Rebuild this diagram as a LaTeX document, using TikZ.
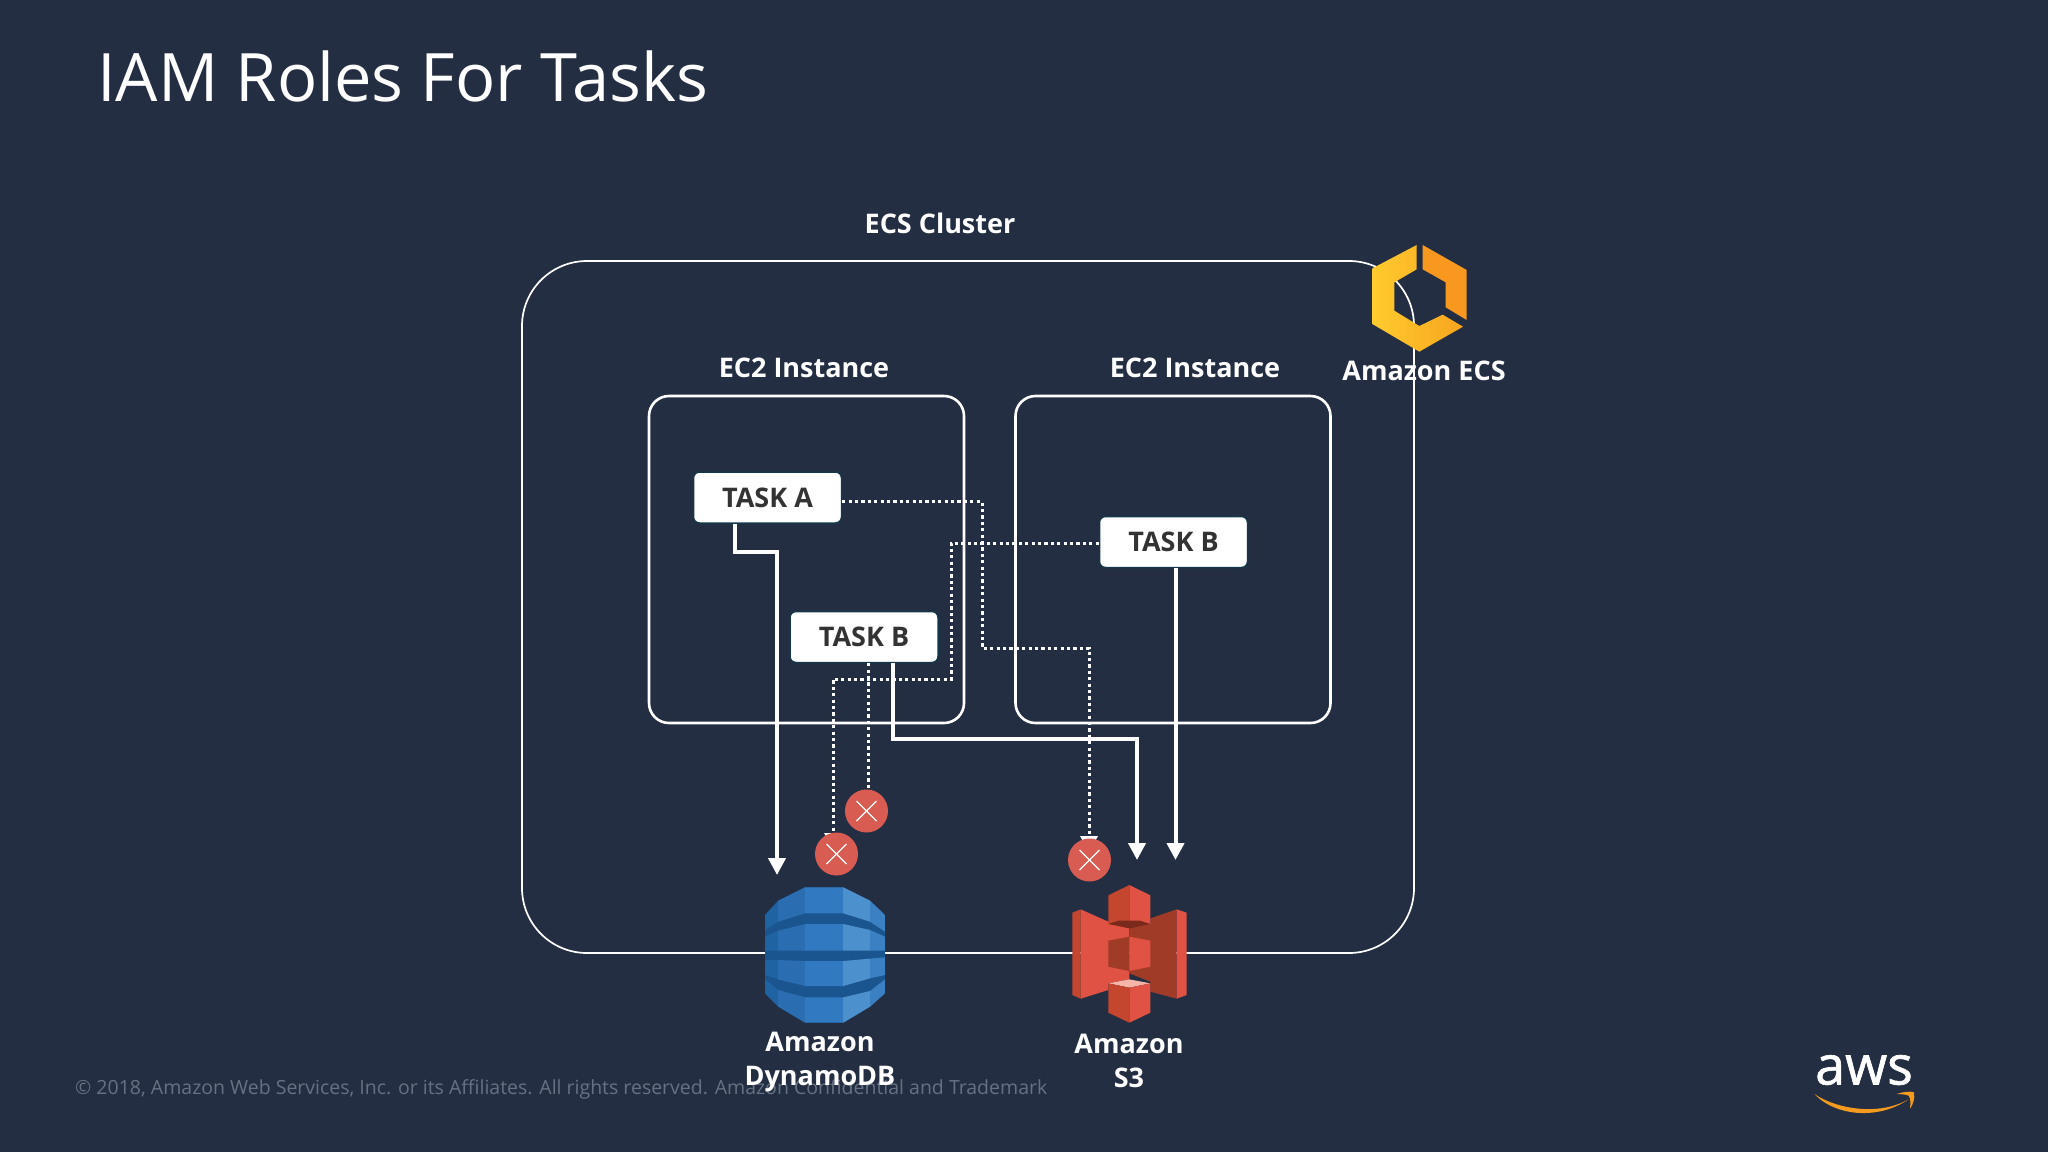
\documentclass[tikz,border=0pt]{standalone}
\usepackage{fontspec}
\setmainfont{Open Sans}
\newfontfamily\awsfont[FakeBold=1.2]{Open Sans}
\usetikzlibrary{arrows.meta}
\definecolor{slide}{HTML}{242E42}
\definecolor{foot}{HTML}{667183}
\definecolor{taskink}{HTML}{333333}
\definecolor{taskrim}{HTML}{14384A}
\definecolor{xred}{HTML}{D95C53}
\definecolor{dbdark}{HTML}{1A5590}
\definecolor{dbedge}{HTML}{2063A3}
\definecolor{dbone}{HTML}{2A6DB0}
\definecolor{dbtwo}{HTML}{3179C0}
\definecolor{dbthree}{HTML}{4C91CD}
\definecolor{dbfour}{HTML}{3A80C2}
\definecolor{sred}{HTML}{E05243}
\definecolor{sdark}{HTML}{A03B28}
\definecolor{smid}{HTML}{C4462F}
\definecolor{sdeep}{HTML}{7A2A1A}
\definecolor{spale}{HTML}{F5B5A8}
\definecolor{smile}{HTML}{F39A1F}
\definecolor{ecsyellow}{HTML}{FFCB2E}
\definecolor{ecsamber}{HTML}{F8A51F}
\definecolor{ecsorange}{HTML}{F8981F}
\tikzset{
    label text/.style={text=white, font=\fontsize{27}{34}\selectfont\bfseries, align=center, inner sep=0pt},
    instance box/.style={draw=white, line width=2.6pt, rounded corners=20pt, minimum width=315pt, minimum height=327pt},
    task box/.style={draw=taskrim, line width=1.5pt, fill=white, rounded corners=6pt, text=taskink,
        font=\fontsize{27}{34}\selectfont\bfseries, minimum width=148pt, minimum height=51pt, inner sep=0pt},
    cross mark/.style={circle, fill=xred, minimum size=43pt, inner sep=0pt},
    allowed/.style={draw=white, line width=4pt, ->},
    denied/.style={draw=white, line width=3pt, dash pattern=on 3.2pt off 3.2pt, ->},
}
\newcommand{\dbstripes}{
    \fill[dbedge] (30,0) rectangle (70,440);
    \fill[dbone] (70,0) rectangle (150,440);
    \fill[dbtwo] (150,0) rectangle (265,440);
    \fill[dbthree] (265,0) rectangle (345,440);
    \fill[dbfour] (345,0) rectangle (390,440);
}
\begin{document}
\begin{tikzpicture}[x=1pt, y=-1pt, >={Triangle[width=17pt,length=17pt]}]
    \fill[slide] (0,0) rectangle (2048,1152);
    \useasboundingbox (0,0) rectangle (2048,1152);

    \node[anchor=base west, text=white, inner sep=0pt, font=\fontsize{66.8}{80}\selectfont] (title) at (97,101) {IAM Roles For Tasks};
    \node[anchor=west, text=foot, inner sep=0pt, font=\fontsize{19.5}{24}\selectfont] (footer) at (75,1089)
        {© 2018, Amazon Web Services, Inc. or its Affiliates. All rights reserved. Amazon Confidential and Trademark};

    % boxes
    \node[draw=white, line width=1.7pt, rounded corners=65pt, minimum width=892pt, minimum height=692pt] (cluster) at (968,607) {};
    \node[instance box] (leftec) at (806.5,559.5) {};
    \node[instance box] (rightec) at (1173,559.5) {};
    \node[label text] (clusterlabel) at (940,223.5) {ECS Cluster};
    \node[label text] (leftlabel) at (804,367.5) {EC2 Instance};
    \node[label text] (rightlabel) at (1195,367.5) {EC2 Instance};

    % tasks
    \node[task box] (taska) at (767.5,497.5) {TASK A};
    \node[task box] (taskbl) at (864,637) {TASK B};
    \node[task box] (taskbr) at (1173.5,542) {TASK B};

    \coordinate (dbin) at (777,875);
    \coordinate (sina) at (1137,860);
    \coordinate (sinb) at (1175.5,860);
    \coordinate (denya) at (868,811);
    \coordinate (denyb) at (833,850);
    \coordinate (denyc) at (1089,853);

    % connectors
    \draw[allowed] ([xshift=-32.5pt]taska.south) |- (777,552) -- (dbin);
    \draw[allowed] ([xshift=29pt]taskbl.south) |- (1137,739) -- (sina);
    \draw[allowed] ([xshift=2pt]taskbr.south) -- (sinb);
    \draw[denied] ([yshift=-4pt]taska.east) -- (982,501.5) -- (982,648) -- (1089,648) -- (denyc);
    \draw[denied] ([yshift=-1pt]taskbr.west) -- (951,543) -- (951,679) -- (833,679) -- (denyb);
    \draw[denied] ([xshift=4pt]taskbl.south) -- (denya);

    % red crosses
    \node[cross mark] (crossa) at (866.5,811) {};
    \node[cross mark] (crossb) at (836.5,854) {};
    \node[cross mark] (crossc) at (1089.5,860) {};
    \foreach \c in {crossa,crossb,crossc} {
        \draw[white, line width=1.3pt] ([shift={(-10,-10)}]\c.center) -- ([shift={(10,10)}]\c.center);
        \draw[white, line width=1.3pt] ([shift={(-10,10)}]\c.center) -- ([shift={(10,-10)}]\c.center);
    }

    % amazon ecs
    \begin{scope}[shift={(1300,220)}, scale=1/3]
        \shade[left color=ecsyellow, right color=ecsamber] (350,75) -- (350,148) -- (283,187) -- (283,272) -- (358,318) -- (428,284) -- (489,320) -- (358,395) -- (217,312) -- (217,145) -- cycle;
        \fill[ecsorange] (368,75) -- (500,150) -- (500,300) -- (437,262) -- (437,187) -- (368,148) -- cycle;
    \end{scope}
    \node[label text] (ecslabel) at (1424,371) {Amazon ECS};

    % dynamodb
    \begin{scope}[shift={(755,880)}, scale=1/3]
        \fill[dbdark] (150,22) -- (265,22) -- (345,62) -- (390,105) -- (390,340) -- (345,380) -- (265,428) -- (150,428) -- (70,380) -- (30,340) -- (30,105) -- (70,62) -- cycle;
        \begin{scope}
            \clip (30,105) -- (70,62) -- (150,22) -- (265,22) -- (345,62) -- (390,105) -- (390,155) -- (345,125) -- (265,100) -- (150,100) -- (70,125) -- (30,150) -- cycle;
            \dbstripes
        \end{scope}
        \begin{scope}
            \clip (30,170) -- (70,152) -- (150,132) -- (265,132) -- (345,150) -- (390,170) -- (390,212) -- (30,212) -- cycle;
            \dbstripes
        \end{scope}
        \begin{scope}
            \clip (30,240) -- (70,240) -- (150,243) -- (265,243) -- (390,232) -- (390,285) -- (345,295) -- (265,318) -- (150,318) -- (70,298) -- (30,285) -- cycle;
            \dbstripes
        \end{scope}
        \begin{scope}
            \clip (30,298) -- (70,330) -- (150,352) -- (265,352) -- (345,333) -- (390,298) -- (390,340) -- (345,380) -- (265,428) -- (150,428) -- (70,380) -- (30,340) -- cycle;
            \dbstripes
        \end{scope}
    \end{scope}
    \node[label text] (dblabel) at (820,1062) {Amazon\\DynamoDB};

    % s3
    \begin{scope}[shift={(1060,880)}, scale=1/3]
        \fill[smid] (37,98) -- (62,88) -- (62,356) -- (37,345) -- cycle;
        \fill[sred] (62,88) -- (145,125) -- (208,145) -- (208,298) -- (145,310) -- (145,330) -- (62,356) -- cycle;
        \fill[sdark] (208,145) -- (271,130) -- (271,115) -- (350,88) -- (350,356) -- (271,335) -- (271,305) -- (208,280) -- cycle;
        \fill[sred] (350,88) -- (380,98) -- (380,345) -- (350,356) -- cycle;
        % cubes
        \fill[smid] (145,46) -- (208,15) -- (208,125) -- (145,132) -- cycle;
        \fill[sred] (208,15) -- (271,46) -- (271,132) -- (208,125) -- cycle;
        \fill[sdeep] (145,132) -- (175,122) -- (240,122) -- (271,132) -- (208,145) -- cycle;
        \fill[sdark] (145,182) -- (208,170) -- (208,273) -- (145,260) -- cycle;
        \fill[sred] (208,170) -- (271,182) -- (271,260) -- (208,273) -- cycle;
        \fill[spale] (145,310) -- (208,298) -- (271,310) -- (208,323) -- cycle;
        \fill[smid] (145,310) -- (208,323) -- (208,428) -- (145,398) -- cycle;
        \fill[sred] (208,323) -- (271,310) -- (271,398) -- (208,428) -- cycle;
    \end{scope}
    \node[label text] (slabel) at (1129,1061) {Amazon\\S3};

    % aws logo
    \node[text=white, inner sep=0pt, font=\fontsize{54}{60}\selectfont\awsfont] (awslogo) at (1864,1070) {aws};
    \begin{scope}[shift={(1780,1030)}, scale=1/3]
        \fill[smile] (103,192) .. controls (170,238) and (300,258) .. (385,208) .. controls (300,268) and (170,262) .. (103,192) -- cycle;
        \fill[smile] (350,192) .. controls (370,185) and (390,183) .. (402,187) .. controls (405,205) and (400,222) .. (390,236) .. controls (392,220) and (392,205) .. (386,197) .. controls (378,193) and (365,193) .. (350,192) -- cycle;
    \end{scope}
\end{tikzpicture}
\end{document}
